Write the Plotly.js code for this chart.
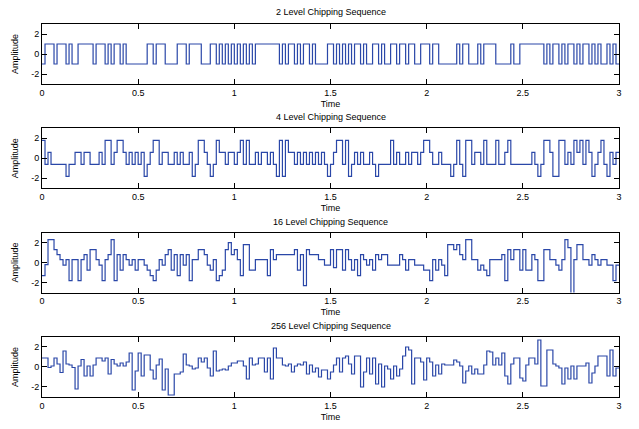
<!DOCTYPE html>
<html>
<head>
<meta charset="utf-8">
<script src="https://cdn.plot.ly/plotly-3.0.1.min.js"></script>
<style>html,body{margin:0;padding:0;background:#fff;}#chart{width:639px;height:429px;}</style>
</head>
<body>
<div id="chart"></div>
<script>
// ---- data ----
const timeSpan = 3;
const xTickVals = [0, 0.5, 1, 1.5, 2, 2.5, 3];
const xTickText = ["0", "0.5", "1", "1.5", "2", "2.5", "3"];
const yTickVals = [-2, 0, 2];
const yTickText = ["-2", "0", "2"];
const titles = ["2 Level Chipping Sequence", "4 Level Chipping Sequence", "16 Level Chipping Sequence", "256 Level Chipping Sequence"];

const level2 = [-1,1,1,1,-1,1,1,1,-1,1,
-1,-1,1,1,1,1,1,-1,1,1,
1,-1,1,-1,1,1,-1,1,-1,-1,
-1,-1,-1,-1,-1,1,1,-1,1,1,
1,-1,-1,-1,-1,1,1,1,-1,1,
1,1,1,-1,-1,-1,1,1,-1,1,
-1,1,-1,1,-1,1,-1,1,-1,1,
-1,1,1,1,1,1,1,1,1,-1,
1,-1,1,1,-1,1,-1,1,1,-1,
1,-1,-1,-1,-1,1,1,-1,1,-1,
1,-1,1,-1,1,1,-1,1,-1,-1,
1,1,-1,1,-1,-1,1,1,-1,1,
1,-1,1,1,-1,-1,1,1,1,-1,
1,1,-1,-1,-1,-1,-1,-1,1,-1,
1,1,-1,-1,-1,1,-1,1,1,1,
1,-1,-1,-1,-1,-1,1,-1,-1,1,
1,1,1,1,1,1,1,-1,1,-1,
1,1,-1,1,-1,1,1,-1,1,-1,
1,1,-1,1,-1,1,-1,-1,1,-1,
1,-1];

const level4 = [1.8,-0.6,0.6,-0.6,-0.6,-0.6,-0.6,-0.6,-1.8,-0.6,
-0.6,0.6,0.6,-0.6,0.6,0.6,-0.6,-0.6,-0.6,0.6,
-0.6,1.8,1.8,-0.6,0.6,1.8,1.8,0.6,-0.6,0.6,
-0.6,0.6,-0.6,0.6,-1.8,-0.6,0.6,1.8,1.8,-0.6,
0.6,0.6,-0.6,-0.6,0.6,-0.6,0.6,-0.6,-0.6,0.6,
-1.8,-0.6,1.8,1.8,0.6,-0.6,-1.8,-0.6,1.8,0.6,
0.6,-0.6,0.6,0.6,
-0.6,0.6,1.8,-0.6,1.8,-0.6,-0.6,0.6,-0.6,0.6,
0.6,-0.6,0.6,-0.6,-1.8,1.8,-1.8,1.8,0.6,0.6,
-0.6,0.6,-0.6,0.6,-0.6,0.6,-0.6,0.6,-0.6,0.6,
-0.6,-1.8,-0.6,0.6,1.8,1.8,-0.6,1.8,-1.8,-0.6,
0.6,-0.6,0.6,-0.6,-0.6,0.6,-0.6,-1.8,-0.6,-0.6,
-0.6,-0.6,1.8,-0.6,0.6,-0.6,-0.6,0.6,-0.6,0.6,
0.6,-0.6,0.6,1.8,1.8,0.6,
-0.6,-0.6,0.6,-0.6,-0.6,-0.6,-1.8,-0.6,1.8,-0.6,
-1.8,1.8,1.8,-0.6,0.6,0.6,-0.6,1.8,-0.6,-0.6,
-0.6,1.8,-0.6,-0.6,0.6,1.8,-0.6,-0.6,-0.6,-0.6,
-0.6,-0.6,-0.6,0.6,-0.6,-1.8,-0.6,1.8,1.8,0.6,
-1.8,-1.8,1.8,1.8,-0.6,0.6,-0.6,1.8,0.6,1.8,
-0.6,1.8,0.6,-1.8,-0.6,0.6,1.8,-0.6,-1.8,0.6,
-0.6,0.6];

const level16 = [-1.3,-0.2,2.3,2.3,1.3,0.8,0.3,-0.25,0.3,-1.8,
0.3,0.3,-1.8,0.3,0.8,-0.75,1.3,1.3,0.3,-0.25,
-1.8,0.3,0.8,2.3,-1.8,0.8,-0.75,0.8,0.3,-0.25,
0.3,-0.75,0.3,0.3,-0.25,-0.75,-1.3,-1.8,-0.75,0.3,
-0.25,0.8,1.3,-0.75,0.8,-1.3,0.8,-0.25,0.8,-1.8,
0.3,0.3,1.3,1.3,0.8,-0.25,-0.75,0.3,-1.8,-1.3,
-0.75,1.3,2.0,0.8,
1.3,0.3,-1.3,1.8,1.8,-0.75,-0.75,0.3,0.3,0.3,
0.3,-1.3,1.3,0.3,0.8,0.8,0.8,0.8,0.8,0.8,
1.3,-0.75,0.8,-2.3,1.3,0.8,0.8,0.8,0.3,0.3,
-0.25,-0.25,1.3,-0.5,1.3,1.3,-0.75,1.3,0.3,-0.75,
0.3,-1.3,0.8,0.3,-0.25,0.3,-0.75,0.8,0.3,0.8,
0.8,-0.25,-0.25,-0.25,-0.25,0.8,0.3,-0.75,0.3,0.3,
-0.25,-0.25,-0.25,-0.75,-0.75,-1.8,
0.3,-0.75,0.3,-0.25,-1.3,1.8,1.8,1.3,1.8,0.8,
0.3,2.3,2.3,0.3,0.3,-0.75,-0.25,-0.75,-1.3,0.3,
0.3,0.3,0.3,0.8,-1.8,1.3,0.3,1.3,1.3,-0.75,
1.3,-0.75,-0.75,0.8,0.3,-1.8,-1.8,1.3,1.3,0.3,
0.3,-0.25,-0.75,0.3,2.3,1.5,-3.8,0.3,1.8,1.8,
0.3,0.3,-0.25,0.8,0.3,-0.25,0.3,0.3,-0.25,-0.25,
-1.8,-0.25];

const level256 = [0.9,0.9,-0.05,0.1,0.9,0.3,-0.55,1.6,0.3,0.2,
-0.05,-2.2,0.1,0.75,-0.9,0.1,-0.9,0.2,0.9,0.9,
0.6,0.9,-0.7,0.75,0.3,0.1,0.4,0.1,0.5,1.4,
-2.3,-0.4,1.4,-0.9,1.2,1.2,-0.3,-1.2,0.2,0.8,
-2.3,-0.2,-2.8,-2.8,-0.7,-0.7,-0.5,1.3,0.2,0.1,
-0.2,-0.1,0.9,0.5,0.9,-0.1,-0.9,1.6,-0.4,-0.3,
-0.2,-0.3,0.1,0.4,
0.4,0.6,0.6,0.1,-1.2,0.9,0.2,0.3,0.9,0.9,
-0.5,0.9,-1.2,1.9,0.9,0.9,0.2,0.1,0.3,-0.5,
0.1,0.3,0.2,0.5,-0.7,0.2,-0.5,-0.1,-1.0,-0.3,
-0.3,-1.2,-0.5,0.2,0.9,-0.5,0.9,1.1,0.3,-0.7,
1.1,1.1,-2.0,-0.5,0.9,-0.7,0.9,-1.7,0.3,-2.0,
0.1,-0.2,-1.2,0.1,-0.9,-0.2,1.1,2.0,1.7,-1.7,
0.9,0.9,0.5,-1.3,0.9,0.5,
-0.9,0.2,-0.7,0.3,0.2,0.2,0.2,0.7,0.5,0.1,
-1.6,-0.4,0.1,-0.7,-0.2,-0.7,-0.7,0.2,1.6,1.5,
0.2,0.9,0.2,1.4,-0.9,-1.7,0.3,0.9,0.9,-1.1,
-1.4,0.2,0.9,0.9,0.3,2.7,-1.9,-1.9,1.7,1.7,
0.3,0.1,-0.1,-1.7,-0.1,-1.2,0.1,-1.2,0.1,0.1,
0.1,0.4,-1.6,-0.6,0.1,1.1,1.1,1.1,-0.9,1.7,
-0.9,-0.1];

// ---- build ----
const series = [level2, level4, level16, level256];
const lineColor = "#2a47a8";
const font = {family: "Liberation Sans, Arial, sans-serif", size: 9, color: "#000"};

function stairs(vals) {
  const n = vals.length;
  const x = [], y = [];
  for (let i = 0; i < n; i++) { x.push(i * timeSpan / n); y.push(vals[i]); }
  x.push(timeSpan); y.push(vals[n - 1]);
  return {x, y};
}

// domains (paper fractions), top-to-bottom
const domains = [[0.8391, 1.0], [0.5595, 0.7204], [0.2799, 0.4408], [0.0, 0.1609]];
const titleShift = [5, 4, 4, 4];

const traces = [];
const layout = {
  width: 639, height: 429,
  margin: {l: 42, r: 20, t: 24, b: 32},
  paper_bgcolor: "#fff", plot_bgcolor: "#fff",
  showlegend: false,
  font: font,
  annotations: []
};

series.forEach((vals, k) => {
  const s = stairs(vals);
  const idx = k === 0 ? "" : String(k + 1);
  traces.push({
    x: s.x, y: s.y, type: "scatter", mode: "lines",
    line: {shape: "hv", color: lineColor, width: 1.2},
    xaxis: "x" + idx, yaxis: "y" + idx, hoverinfo: "skip"
  });
  const axCommon = {
    showline: true, mirror: "ticks", linecolor: "#000", linewidth: 1,
    ticks: "inside", ticklen: 5, tickwidth: 1, tickcolor: "#000",
    showgrid: false, zeroline: false, tickfont: font, fixedrange: true
  };
  layout["xaxis" + idx] = Object.assign({}, axCommon, {
    domain: [0, 1], range: [0, timeSpan], anchor: "y" + idx,
    tickmode: "array", tickvals: xTickVals, ticktext: xTickText,
    title: {text: "Time", font: font, standoff: 3}
  });
  layout["yaxis" + idx] = Object.assign({}, axCommon, {
    domain: domains[k], range: [-3, 3], anchor: "x" + idx,
    tickmode: "array", tickvals: yTickVals, ticktext: yTickText,
    title: {text: "Amplitude", font: font, standoff: 11}
  });
  layout.annotations.push({
    text: titles[k], xref: "paper", yref: "paper", x: 0.5, y: domains[k][1],
    yshift: titleShift[k], xanchor: "center", yanchor: "bottom", showarrow: false, font: font
  });
});

Plotly.newPlot("chart", traces, layout, {staticPlot: true, displayModeBar: false});
</script>
</body>
</html>
